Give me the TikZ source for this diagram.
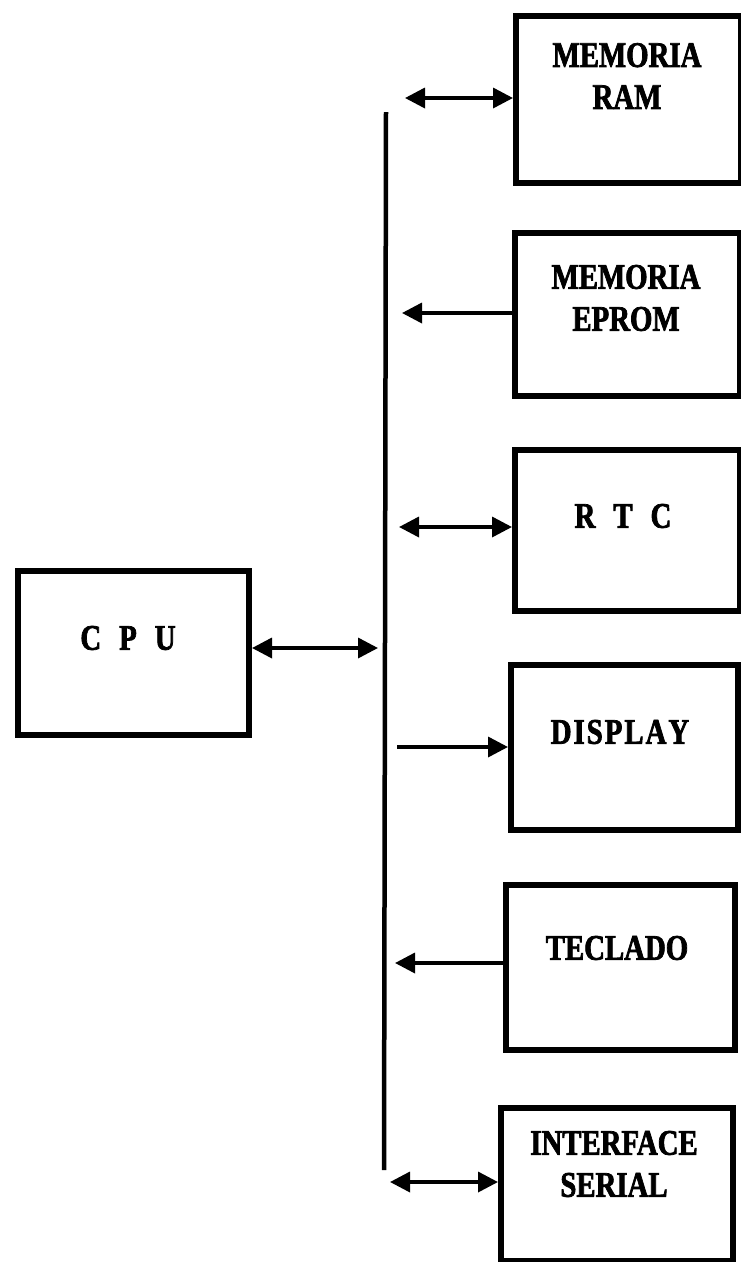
\documentclass[tikz,border=0pt]{standalone}
\usepackage{fontspec}
\newfontfamily\boxfont[FakeStretch=0.8,BoldFeatures={FakeBold=2}]{Liberation Serif}
\usetikzlibrary{arrows.meta}
\begin{document}
\begin{tikzpicture}[x=1pt,y=-1pt,
  blk/.style={draw,line width=6pt,minimum width=#1,inner sep=0pt,anchor=north west},
  lbl/.style={font=\boxfont\bfseries\fontsize{36}{42}\selectfont,align=center,inner sep=0pt},
  conn/.style={line width=3.5pt},
  tip/.style={-{Triangle[length=20pt,width=20pt]}},
  tips/.style={{Triangle[length=20pt,width=20pt]}-{Triangle[length=20pt,width=20pt]}}]
\useasboundingbox (0,0) rectangle (741,1262);
% blocks (north west corner, width, height)
\node[blk=231pt,minimum height=164pt] (cpu) at (15,568) {};
\node[blk=225pt,minimum height=167pt] (ram) at (513,13) {};
\node[blk=225pt,minimum height=163pt] (eprom) at (512,230) {};
\node[blk=225pt,minimum height=161pt] (rtc) at (512,447) {};
\node[blk=227pt,minimum height=165pt] (disp) at (508,662) {};
\node[blk=229pt,minimum height=165pt] (tecl) at (503,882) {};
\node[blk=232pt,minimum height=153pt] (ser) at (498,1105) {};
% labels
\node[lbl] (cputxt) at (128,638) {C\,\,\,P\,\,\,U};
\node[lbl] (ramtxt) at (627,76) {MEMORIA\\RAM};
\node[lbl] (epromtxt) at (626,298) {MEMORIA\\EPROM};
\node[lbl] (rtctxt) at (623,516) {R\,\,\,T\,\,\,C};
\node[lbl] (disptxt) at (620,732) {D\kern2ptI\kern2ptS\kern2ptP\kern2ptL\kern2ptA\kern2ptY};
\node[lbl] (tecltxt) at (617,948) {TECLADO};
\node[lbl] (sertxt) at (614,1164) {INTERFACE\\SERIAL};
% bus
\coordinate (bustop) at (386,112);
\coordinate (busbot) at (384,1170);
\draw[line width=4.5pt] (bustop) -- (busbot);
% bus-side free ends
\coordinate (bcpu) at (378,648);
\coordinate (bram) at (405,98);
\coordinate (beprom) at (402,313);
\coordinate (brtc) at (399,527);
\coordinate (bdisp) at (397,747);
\coordinate (btecl) at (395,963);
\coordinate (bser) at (390,1182);
% connectors
\draw[conn,tips] (cpu.east |- bcpu) -- (bcpu);
\draw[conn,tips] (bram) -- (ram.west |- bram);
\draw[conn,tip] (eprom.west |- beprom) -- (beprom);
\draw[conn,tips] (brtc) -- (rtc.west |- brtc);
\draw[conn,tip] (bdisp) -- (disp.west |- bdisp);
\draw[conn,tip] (tecl.west |- btecl) -- (btecl);
\draw[conn,tips] (bser) -- (ser.west |- bser);
\end{tikzpicture}
\end{document}
